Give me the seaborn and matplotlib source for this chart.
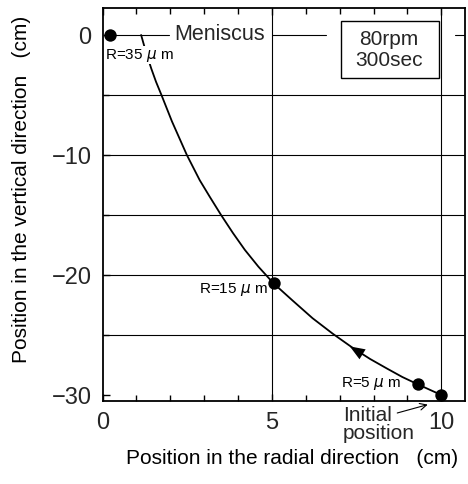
import matplotlib
matplotlib.use("Agg")
import matplotlib.pyplot as plt
import seaborn as sns
import pandas as pd
from matplotlib.patches import Rectangle

# ---- data ----
curve_x = [10.0, 9.65, 9.3, 8.85, 8.4, 7.9, 7.4, 6.8, 6.2, 5.6, 5.05, 4.6, 4.2, 3.85,
           3.5, 3.17, 2.87, 2.49, 2.27, 2.05, 1.74, 1.58, 1.44, 1.28, 1.14]
curve_y = [-30.0, -29.55, -29.1, -28.5, -27.8, -27.0, -26.1, -24.9, -23.6, -22.1, -20.7,
           -19.3, -17.9, -16.5, -15.0, -13.5, -12.1, -10.0, -8.6, -7.2, -5.0, -3.9,
           -2.8, -1.4, 0.0]
point_x = [0.23, 5.05, 9.3, 10.0]
point_y = [0.0, -20.7, -29.1, -30.0]
point_labels = ["R=35 $\\mu$ m", "R=15 $\\mu$ m", "R=5 $\\mu$ m", ""]
x_ticks = [0, 5, 10]
y_ticks = [0, -10, -20, -30]
grid_y = [-5, -10, -15, -20, -25]
grid_x = [5, 10]

sns.set_theme(style="white")
plt.rcParams["font.family"] = ["Liberation Sans", "DejaVu Sans"]

fig = plt.figure(figsize=(4.68, 4.84), dpi=100)
ax = fig.add_axes([102.5 / 468, 83 / 484, 362.5 / 468, 393 / 484])
ax.set_xlim(0, 10.7)
ax.set_ylim(-30.5, 2.25)

# grid lines
for gy in grid_y:
    ax.axhline(gy, color="black", lw=0.8, zorder=1)
for gx in grid_x:
    ax.axvline(gx, color="black", lw=0.8, zorder=1)
# meniscus line with gaps
for x0, x1 in [(0.23, 1.95), (5.0, 6.6), (10.4, 10.7)]:
    ax.plot([x0, x1], [0, 0], color="black", lw=0.8, zorder=1)

curve = pd.DataFrame({"x": curve_x, "y": curve_y})
sns.lineplot(data=curve, x="x", y="y", sort=False, color="black", lw=1.3, ax=ax, zorder=3)

pts = pd.DataFrame({"x": point_x, "y": point_y})
sns.scatterplot(data=pts, x="x", y="y", color="black", s=80, edgecolor="black",
                linewidth=0, ax=ax, zorder=5)

# direction arrow on the curve
ax.annotate("", xy=(7.3, -25.95), xytext=(7.9, -27.0),
            arrowprops=dict(arrowstyle="-|>,head_length=0.9,head_width=0.35",
                            color="black", lw=0.0, shrinkA=0, shrinkB=0), zorder=6)

# labels
lab_kw = dict(fontsize=11, color="black", zorder=7)
ax.text(0.06, -1.67, point_labels[0], ha="left", va="center",
        bbox=dict(facecolor="white", edgecolor="none", pad=0.5), **lab_kw)
ax.text(4.87, -21.25, point_labels[1], ha="right", va="center", **lab_kw)
ax.text(8.82, -29.0, point_labels[2], ha="right", va="center", **lab_kw)

ax.text(3.45, 0.0, "Meniscus", ha="center", va="center", fontsize=15.5,
        bbox=dict(facecolor="white", edgecolor="none", pad=1.0), zorder=4)

ax.add_patch(Rectangle((7.05, -3.58), 2.89, 4.75, facecolor="white",
                       edgecolor="black", lw=1.0, zorder=4))
ax.text(8.45, -1.25, "80rpm\n300sec", ha="center", va="center", fontsize=15,
        linespacing=1.1, zorder=5)

ax.text(7.1, -30.95, "Initial\nposition", ha="left", va="top", fontsize=15,
        linespacing=0.9, multialignment="left")
ax.annotate("", xy=(9.6, -30.8), xytext=(8.7, -31.5), annotation_clip=False,
            arrowprops=dict(arrowstyle="->", color="black", lw=0.8,
                            shrinkA=0, shrinkB=0))

# ticks
ax.set_xticks(x_ticks)
ax.set_xticks(range(0, 11), minor=True)
ax.set_yticks(y_ticks)
ax.set_yticks([-5, -15, -25], minor=True)
ax.tick_params(which="both", direction="in", top=True, bottom=True, left=True,
               right=False, color="black")
ax.tick_params(which="major", length=5, width=1.0, labelsize=17, pad=8)
ax.tick_params(which="minor", length=4, width=1.0)
for sp in ax.spines.values():
    sp.set_color("black")
    sp.set_linewidth(1.3)

ax.set_xlabel("Position in the radial direction   (cm)", fontsize=15, color="black")
ax.set_ylabel("Position in the vertical direction   (cm)", fontsize=15, color="black")
ax.xaxis.set_label_coords(0.523, -0.122)
ax.xaxis.label.set_va("top")
ax.yaxis.set_label_coords(-0.198, 0.539)

fig.savefig("out.png", dpi=100)
